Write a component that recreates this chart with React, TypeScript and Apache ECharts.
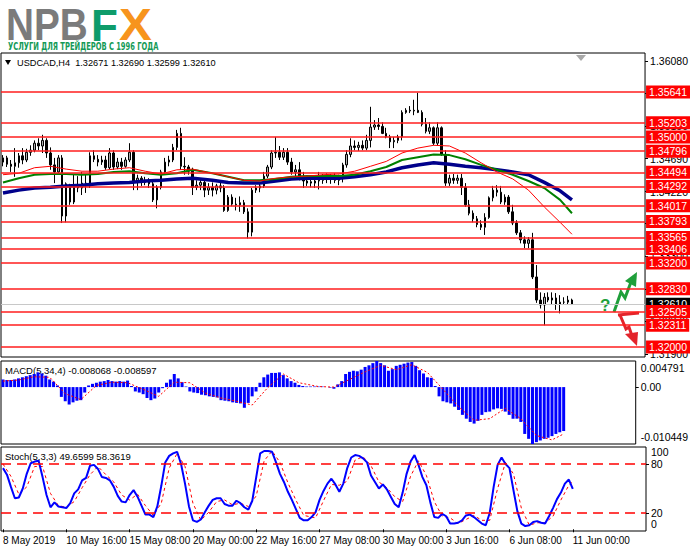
import React, { useEffect, useRef } from 'react';
import * as echarts from 'echarts';

// time axis: one label every 16 H4 bars
const timeLabels = ['8 May 2019', '10 May 16:00', '15 May 08:00', '20 May 00:00', '22 May 16:00',
  '27 May 08:00', '30 May 00:00', '3 Jun 16:00', '6 Jun 08:00', '11 Jun 00:00'];

// price axis ticks and the horizontal levels with red tags
const priceTicks = [1.3608, 1.3562, 1.3515, 1.3469, 1.3422, 1.3376, 1.333, 1.3283, 1.3237, 1.319];
const levelPrices = [1.35641, 1.35203, 1.35, 1.34796, 1.34494, 1.34292, 1.34017, 1.33793,
  1.33565, 1.33406, 1.332, 1.3283, 1.32505, 1.32311, 1.32];
const lastPrice = 1.3261;

const opens = [
  1.3464, 1.3470, 1.3461, 1.3458, 1.3463, 1.3473, 1.3467, 1.3478, 1.3481, 1.3491,
  1.3487, 1.3495, 1.3477, 1.3460, 1.3450, 1.3470, 1.3387, 1.3430, 1.3407, 1.3431,
  1.3427, 1.3434, 1.3430, 1.3473, 1.3468, 1.3464, 1.3467, 1.3456, 1.3477, 1.3457,
  1.3464, 1.3458, 1.3467, 1.3478, 1.3437, 1.3441, 1.3435, 1.3438, 1.3433, 1.3410,
  1.3428, 1.3450, 1.3464, 1.3467, 1.3485, 1.3505, 1.3458, 1.3457, 1.3451, 1.3428,
  1.3431, 1.3435, 1.3424, 1.3428, 1.3424, 1.3430, 1.3427, 1.3395, 1.3414, 1.3404,
  1.3403, 1.3406, 1.3393, 1.3364, 1.3424, 1.3427, 1.3430, 1.3444, 1.3457, 1.3477,
  1.3478, 1.3471, 1.3478, 1.3464, 1.3450, 1.3453, 1.3443, 1.3437, 1.3434,
  1.3434, 1.3437, 1.3438, 1.3443, 1.3440, 1.3441, 1.3438, 1.3441, 1.3460, 1.3475,
  1.3487, 1.3485, 1.3488, 1.3484, 1.3495, 1.3514, 1.3517, 1.3515, 1.3505, 1.3500,
  1.3493, 1.3495, 1.3500, 1.3535, 1.3538, 1.3537, 1.3538, 1.3535, 1.3518, 1.3508,
  1.3513, 1.3491, 1.3513, 1.3475, 1.3434, 1.3441, 1.3438, 1.3441, 1.3428, 1.3403,
  1.3391, 1.3383, 1.3375, 1.3371, 1.3385, 1.3413, 1.3424, 1.3421, 1.3407, 1.3414,
  1.3393, 1.3377, 1.3363, 1.3353, 1.3348, 1.3353, 1.3300, 1.3267, 1.3260, 1.3271,
  1.3267, 1.3270, 1.3261, 1.3264, 1.3264, 1.32671,
];
const highs = [
  1.3474, 1.3473, 1.3467, 1.3484, 1.3477, 1.3484, 1.3483, 1.3488, 1.3495, 1.3498,
  1.3503, 1.3498, 1.3485, 1.3470, 1.3474, 1.3474, 1.3435, 1.3433, 1.3446, 1.3444,
  1.3450, 1.3446, 1.3478, 1.3481, 1.3474, 1.3473, 1.3473, 1.3484, 1.3481, 1.3470,
  1.3470, 1.3471, 1.3491, 1.3481, 1.3446, 1.3444, 1.3443, 1.3441, 1.3438, 1.3431,
  1.3453, 1.3470, 1.3473, 1.3490, 1.3510, 1.3513, 1.3471, 1.3460, 1.3456, 1.3438,
  1.3441, 1.3441, 1.3434, 1.3435, 1.3433, 1.3435, 1.3431, 1.3417, 1.3418, 1.3413,
  1.3415, 1.3410, 1.3398, 1.3427, 1.3431, 1.3434, 1.3450, 1.3460, 1.3481, 1.3500,
  1.3487, 1.3484, 1.3484, 1.3470, 1.3460, 1.3464, 1.3450, 1.3444, 1.3441,
  1.3441, 1.3450, 1.3447, 1.3448, 1.3447, 1.3448, 1.3446, 1.3463, 1.3481, 1.3498,
  1.3495, 1.3493, 1.3495, 1.3503, 1.3543, 1.3524, 1.3527, 1.3521, 1.3513, 1.3503,
  1.3500, 1.3503, 1.3538, 1.3541, 1.3544, 1.3553, 1.3563, 1.3538, 1.3527, 1.3521,
  1.3515, 1.3521, 1.3515, 1.3481, 1.3446, 1.3447, 1.3446, 1.3447, 1.3434, 1.3410,
  1.3395, 1.3387, 1.3381, 1.3391, 1.3415, 1.3430, 1.3431, 1.3430, 1.3418, 1.3417,
  1.3403, 1.3381, 1.3367, 1.3358, 1.3357, 1.3363, 1.3317, 1.3278, 1.3277, 1.3278,
  1.3278, 1.3277, 1.3274, 1.3271, 1.3273, 1.3269,
];
const lows = [
  1.3458, 1.3457, 1.3450, 1.3443, 1.3456, 1.3461, 1.3464, 1.3473, 1.3478, 1.3481,
  1.3477, 1.3470, 1.3453, 1.3434, 1.3446, 1.3377, 1.3378, 1.3403, 1.3404, 1.3421,
  1.3417, 1.3420, 1.3427, 1.3464, 1.3458, 1.3460, 1.3453, 1.3454, 1.3453, 1.3454,
  1.3453, 1.3456, 1.3464, 1.3424, 1.3424, 1.3430, 1.3431, 1.3427, 1.3407, 1.3398,
  1.3425, 1.3447, 1.3458, 1.3464, 1.3481, 1.3453, 1.3446, 1.3446, 1.3417, 1.3424,
  1.3424, 1.3414, 1.3417, 1.3415, 1.3418, 1.3421, 1.3393, 1.3393, 1.3401, 1.3395,
  1.3393, 1.3390, 1.3355, 1.3358, 1.3420, 1.3421, 1.3427, 1.3441, 1.3454, 1.3470,
  1.3467, 1.3467, 1.3460, 1.3446, 1.3443, 1.3438, 1.3427, 1.3430, 1.3428,
  1.3427, 1.3425, 1.3433, 1.3434, 1.3433, 1.3434, 1.3431, 1.3435, 1.3456, 1.3471,
  1.3481, 1.3480, 1.3481, 1.3481, 1.3485, 1.3510, 1.3510, 1.3504, 1.3498, 1.3484,
  1.3484, 1.3491, 1.3495, 1.3533, 1.3534, 1.3531, 1.3534, 1.3515, 1.3505, 1.3504,
  1.3488, 1.3487, 1.3473, 1.3430, 1.3430, 1.3433, 1.3433, 1.3417, 1.3400, 1.3388,
  1.3378, 1.3371, 1.3367, 1.3360, 1.3383, 1.3408, 1.3415, 1.3404, 1.3403, 1.3390,
  1.3374, 1.3360, 1.3348, 1.3341, 1.3341, 1.3297, 1.3263, 1.3255, 1.3231, 1.3264,
  1.3261, 1.3253, 1.3248, 1.3260, 1.3261, 1.32599,
];
const closes = [
  1.3470, 1.3461, 1.3458, 1.3463, 1.3473, 1.3467, 1.3478, 1.3481, 1.3491, 1.3487,
  1.3495, 1.3477, 1.3460, 1.3450, 1.3470, 1.3387, 1.3433, 1.3407, 1.3431, 1.3427,
  1.3434, 1.3430, 1.3473, 1.3468, 1.3464, 1.3467, 1.3456, 1.3477, 1.3457, 1.3464,
  1.3458, 1.3467, 1.3478, 1.3437, 1.3441, 1.3435, 1.3438, 1.3433, 1.3410, 1.3428,
  1.3450, 1.3464, 1.3467, 1.3485, 1.3505, 1.3458, 1.3457, 1.3451, 1.3428, 1.3431,
  1.3435, 1.3424, 1.3428, 1.3424, 1.3430, 1.3427, 1.3395, 1.3414, 1.3404, 1.3403,
  1.3406, 1.3393, 1.3364, 1.3424, 1.3427, 1.3430, 1.3444, 1.3457, 1.3477, 1.3478,
  1.3471, 1.3478, 1.3464, 1.3450, 1.3453, 1.3443, 1.3437, 1.3434, 1.3436,
  1.3437, 1.3438, 1.3443, 1.3440, 1.3441, 1.3438, 1.3441, 1.3460, 1.3475, 1.3487,
  1.3485, 1.3488, 1.3484, 1.3495, 1.3514, 1.3517, 1.3515, 1.3505, 1.3500, 1.3493,
  1.3495, 1.3500, 1.3535, 1.3538, 1.3537, 1.3538, 1.3535, 1.3518, 1.3508, 1.3513,
  1.3491, 1.3513, 1.3475, 1.3434, 1.3441, 1.3438, 1.3441, 1.3428, 1.3403, 1.3391,
  1.3383, 1.3375, 1.3371, 1.3385, 1.3413, 1.3424, 1.3421, 1.3407, 1.3414, 1.3393,
  1.3377, 1.3363, 1.3353, 1.3348, 1.3353, 1.3300, 1.3267, 1.3260, 1.3271, 1.3267,
  1.3270, 1.3261, 1.3264, 1.3264, 1.3267, 1.3261,
];

// moving averages, read every ~4 bars
const maIndex = [0, 4, 8, 12, 16, 20, 24, 28, 32, 36, 40, 44, 48, 53, 57, 61, 65, 69, 73, 77,
  81, 85, 89, 93, 97, 101, 105, 109, 113, 117, 121, 125, 129, 133, 137, 141, 144];
const maSlow = [1.3420, 1.3424, 1.3427, 1.3428, 1.3430, 1.3431, 1.3433, 1.3434, 1.3435, 1.3437,
  1.3438, 1.3440, 1.3441, 1.3438, 1.3435, 1.3434, 1.3434, 1.3437, 1.3440, 1.3441,
  1.3441, 1.3441, 1.3443, 1.3446, 1.3450, 1.3456, 1.3460, 1.3463, 1.3461, 1.3458,
  1.3456, 1.3453, 1.3450, 1.3446, 1.3435, 1.3423, 1.3410];
const maMid = [1.3435, 1.3441, 1.3446, 1.3447, 1.3447, 1.3446, 1.3447, 1.3450, 1.3451, 1.3448,
  1.3446, 1.3448, 1.3453, 1.3448, 1.3443, 1.3438, 1.3438, 1.3440, 1.3443, 1.3444,
  1.3444, 1.3444, 1.3446, 1.3451, 1.3457, 1.3467, 1.3471, 1.3475, 1.3474, 1.3468,
  1.3460, 1.3453, 1.3446, 1.3437, 1.3427, 1.3410, 1.3391];
const maFast = [1.3446, 1.3448, 1.3456, 1.3458, 1.3454, 1.3451, 1.3451, 1.3454, 1.3456, 1.3451,
  1.3447, 1.3453, 1.3454, 1.3448, 1.3443, 1.3438, 1.3437, 1.3441, 1.3443, 1.3444,
  1.3446, 1.3447, 1.3451, 1.3458, 1.3465, 1.3477, 1.3484, 1.3488, 1.3487, 1.3477,
  1.3463, 1.3450, 1.3440, 1.3424, 1.3400, 1.3378, 1.3361];

const macdHist = [
  0.0014, 0.0013, 0.0013, 0.0014, 0.0016, 0.0018, 0.0020, 0.0022, 0.0024, 0.0027,
  0.0025, 0.0021, 0.0014, 0.0010, 0.0003, -0.0018, -0.0026, -0.0032, -0.0028, -0.0025,
  -0.0024, -0.0010, 0.0003, 0.0006, 0.0008, 0.0010, 0.0011, 0.0013, 0.0011, 0.0010,
  0.0011, 0.0010, 0.0012, 0.0002, -0.0008, -0.0010, -0.0013, -0.0020, -0.0024, -0.0021,
  -0.0010, -0.0002, 0.0008, 0.0014, 0.0024, 0.0016, 0.0009, 0.0001, -0.0008, -0.0010,
  -0.0011, -0.0014, -0.0015, -0.0017, -0.0018, -0.0019, -0.0024, -0.0025, -0.0026, -0.0028,
  -0.0029, -0.0030, -0.0038, -0.0029, -0.0017, -0.0008, 0.0008, 0.0018, 0.0023, 0.0026,
  0.0026, 0.0027, 0.0022, 0.0016, 0.0011, 0.0008, 0.0004, 0.0002, 0.0001,
  0.0001, 0.0001, 0.0001, 0.0001, 0.0000, -0.0001, -0.0003, 0.0005, 0.0011, 0.0024,
  0.0028, 0.0030, 0.0029, 0.0032, 0.0037, 0.0040, 0.0044, 0.004791, 0.0044, 0.0040,
  0.0030, 0.0033, 0.0039, 0.0041, 0.0043, 0.0045, 0.0046, 0.0039, 0.0031, 0.0025,
  0.0018, 0.0017, 0.0002, -0.0017, -0.0026, -0.0028, -0.0030, -0.0036, -0.0042, -0.0051,
  -0.0058, -0.0064, -0.0067, -0.0062, -0.0051, -0.0046, -0.0045, -0.0041, -0.0039, -0.0040,
  -0.0045, -0.0051, -0.0058, -0.0058, -0.0064, -0.0086, -0.0095, -0.010449, -0.0101, -0.0098,
  -0.0095, -0.0093, -0.0090, -0.0086, -0.0083, -0.008068,
];
const macdSignal = [[0, 0.0011], [4, 0.0013], [8, 0.0019], [12, 0.0018], [16, -0.0012], [20, -0.0023],
  [24, 0.0003], [28, 0.0009], [32, 0.0008], [36, -0.0004], [40, -0.0017], [44, 0.0009], [48, 0.0008],
  [52, -0.0011], [56, -0.0020], [60, -0.0026], [64, -0.0033], [68, -0.0001], [72, 0.0024], [76, 0.0008],
  [81, 0.0001], [85, 0.0000], [89, 0.0014], [93, 0.0028], [97, 0.0040], [101, 0.0032], [105, 0.0041],
  [109, 0.0027], [113, -0.0004], [117, -0.0036], [121, -0.0061], [125, -0.0058], [129, -0.0039],
  [133, -0.0058], [137, -0.0089], [141, -0.0097], [144, -0.008597]];

const stochK = [
  75, 67, 52, 38, 39, 50, 68, 81, 83, 84,
  64, 42, 27, 33, 28, 27, 26, 32, 44, 49,
  60, 63, 78, 79, 74, 64, 63, 60, 52, 41,
  34, 33, 42, 48, 40, 29, 18, 18, 15, 28,
  53, 82, 90, 93, 95, 80, 56, 28, 11, 9,
  12, 21, 29, 36, 38, 38, 31, 29, 29, 35,
  32, 27, 24, 35, 64, 93, 96, 96, 95, 82,
  68, 58, 46, 36, 25, 14, 11, 11, 15,
  21, 36, 47, 56, 62, 55, 46, 56, 75, 88,
  91, 90, 87, 82, 66, 58, 50, 55, 49, 40,
  31, 27, 45, 68, 83, 91, 79, 64, 54, 33,
  15, 14, 19, 16, 7, 7, 8, 11, 17, 18,
  15, 11, 7, 5, 20, 52, 79, 88, 80, 75,
  48, 22, 7, 4, 5, 9, 10, 8, 7, 16,
  26, 37, 45, 56, 61, 49.6599,
];
const stochD = [[0, 80], [2, 65], [4, 43], [6, 52], [8, 77], [10, 77], [12, 44], [14, 29], [16, 27],
  [18, 34], [20, 51], [22, 67], [24, 77], [26, 67], [28, 58], [30, 42], [32, 36], [34, 43], [36, 29],
  [38, 17], [40, 32], [42, 75], [44, 93], [46, 77], [48, 32], [50, 11], [52, 21], [54, 34], [56, 36],
  [58, 30], [60, 32], [62, 28], [64, 41], [66, 84], [68, 96], [70, 82], [72, 57], [74, 36], [76, 17],
  [79, 14], [81, 35], [83, 55], [85, 54], [87, 59], [89, 85], [91, 89], [93, 78], [95, 58], [97, 51],
  [99, 40], [101, 34], [103, 65], [105, 84], [107, 66], [109, 34], [111, 16], [113, 14], [115, 7],
  [117, 12], [119, 17], [121, 11], [123, 11], [125, 50], [127, 82], [129, 68], [131, 26], [133, 5],
  [135, 8], [137, 8], [139, 16], [141, 36], [143, 54], [144, 58.3619]];

const SLOTS = 163;
const FONT = 'Liberation Sans';

export default function App() {
  const chartRef = useRef<HTMLDivElement>(null);

  useEffect(() => {
    if (!chartRef.current) return;
    const chart = echarts.init(chartRef.current, null, { renderer: 'svg' });

    const cats = Array.from({ length: SLOTS }, (_, i) => String(i));
    const candles = opens.map((o, i) => [o, closes[i], lows[i], highs[i]]);
    const maPairs = (vals: number[]) => vals.map((v, k) => [maIndex[k], v]);
    const isTimeTick = (i: number) => i % 16 === 0 && i / 16 < timeLabels.length;

    const axisText = { fontSize: 10.5, color: '#000', fontFamily: FONT };
    const gridBase = { left: 1, width: 645, show: true, borderColor: '#000', borderWidth: 1 };
    const hiddenX = (gridIndex: number) => ({
      type: 'category', gridIndex, data: cats, boundaryGap: true, show: false,
    });

    const option = {
      animation: false,
      backgroundColor: '#fff',
      textStyle: { fontFamily: FONT },
      grid: [
        { ...gridBase, top: 53, height: 304 },
        { ...gridBase, top: 361, height: 83 },
        { ...gridBase, top: 447, height: 84 },
      ],
      xAxis: [
        hiddenX(0),
        hiddenX(1),
        {
          type: 'category', gridIndex: 2, data: cats, boundaryGap: true,
          axisLine: { show: false },
          axisTick: {
            show: true, interval: (i: number) => isTimeTick(i), alignWithLabel: true,
            length: 3, lineStyle: { color: '#000' },
          },
          axisLabel: {
            interval: (i: number) => isTimeTick(i),
            formatter: (v: string) => timeLabels[Number(v) / 16] || '',
            align: 'left', margin: 4, fontSize: 10, color: '#000', fontFamily: FONT,
          },
          splitLine: { show: false },
        },
      ],
      yAxis: [
        {
          type: 'value', gridIndex: 0, position: 'right', min: 1.31857, max: 1.36198,
          splitLine: { show: false }, axisLine: { show: false },
          axisTick: { show: true, customValues: priceTicks, length: 3, lineStyle: { color: '#000' } },
          axisLabel: { ...axisText, customValues: priceTicks, margin: 5, formatter: (v: number) => v.toFixed(5) },
        },
        {
          type: 'value', gridIndex: 1, position: 'right', min: -0.010449, max: 0.004791,
          splitLine: { show: false }, axisLine: { show: false },
          axisTick: { show: true, customValues: [0], length: 3, lineStyle: { color: '#000' } },
          axisLabel: {
            ...axisText, margin: 5, customValues: [0.004791, 0, -0.010449],
            formatter: (v: number) => (v > 0.001 ? '{t|0.004791}' : v < -0.001 ? '{b|-0.010449}' : '0.00'),
            rich: {
              t: { ...axisText, padding: [14, 0, 0, 0] },
              b: { ...axisText, padding: [0, 0, 14, 0] },
            },
          },
        },
        {
          type: 'value', gridIndex: 2, position: 'right', min: -2.1, max: 100.9,
          splitLine: { show: false }, axisLine: { show: false },
          axisTick: { show: true, customValues: [20, 80], length: 3, lineStyle: { color: '#000' } },
          axisLabel: {
            ...axisText, margin: 5, customValues: [0, 20, 80, 100],
            formatter: (v: number) => (v === 100 ? '{t|100}' : v === 0 ? '{b|0}' : String(v)),
            rich: {
              t: { ...axisText, padding: [8, 0, 0, 0] },
              b: { ...axisText, padding: [0, 0, 10, 0] },
            },
          },
        },
      ],
      series: [
        {
          type: 'candlestick', xAxisIndex: 0, yAxisIndex: 0, data: candles, barWidth: 2,
          itemStyle: { color: '#b0b0b0', color0: '#000', borderColor: '#000', borderColor0: '#000', borderWidth: 1 },
          markLine: {
            silent: true, symbol: ['none', 'none'], animation: false, precision: 5,
            emphasis: { disabled: true },
            lineStyle: { color: '#ff1e1e', width: 1.5, type: 'solid' },
            label: {
              show: true, position: 'end', distance: 1,
              formatter: (p: any) => Number(p.value).toFixed(5),
              backgroundColor: '#ff0000', color: '#fff', fontSize: 10.5, fontFamily: FONT,
              padding: [1, 3, 0, 3], lineHeight: 12,
            },
            data: [
              {
                yAxis: lastPrice,
                lineStyle: { color: '#c8c8c8', width: 1, type: 'solid' },
                label: { backgroundColor: '#000', color: '#fff' },
              },
              ...levelPrices.map((v) => ({ yAxis: v })),
            ],
          },
        },
        {
          type: 'line', xAxisIndex: 0, yAxisIndex: 0, data: maPairs(maSlow), showSymbol: false,
          lineStyle: { color: '#00008b', width: 3.5 }, silent: true,
        },
        {
          type: 'line', xAxisIndex: 0, yAxisIndex: 0, data: maPairs(maMid), showSymbol: false,
          lineStyle: { color: '#008000', width: 2 }, silent: true,
        },
        {
          type: 'line', xAxisIndex: 0, yAxisIndex: 0, data: maPairs(maFast), showSymbol: false,
          lineStyle: { color: '#ff0000', width: 1 }, silent: true,
        },
        {
          type: 'bar', xAxisIndex: 1, yAxisIndex: 1, data: macdHist, barWidth: 3,
          itemStyle: { color: '#0000ff' }, silent: true,
        },
        {
          type: 'line', xAxisIndex: 1, yAxisIndex: 1, data: macdSignal, showSymbol: false,
          lineStyle: { color: '#ff0000', width: 1, type: [2, 2] }, silent: true,
        },
        {
          type: 'line', xAxisIndex: 2, yAxisIndex: 2, data: stochD, showSymbol: false,
          lineStyle: { color: '#ff0000', width: 1, type: [3, 3] }, silent: true,
        },
        {
          type: 'line', xAxisIndex: 2, yAxisIndex: 2, data: stochK, showSymbol: false,
          lineStyle: { color: '#0000ff', width: 2 }, silent: true,
          markLine: {
            silent: true, symbol: ['none', 'none'], animation: false,
            lineStyle: { color: '#ff0000', width: 1.5, type: [10, 6] },
            label: { show: false },
            data: [{ yAxis: 80 }, { yAxis: 20 }],
          },
        },
      ],
      graphic: [
        { type: 'text', x: 6, y: 25, scaleX: 0.88, style: { text: 'NPB', fill: '#7b7b7b', font: `bold 44px "${FONT}"`, verticalAlign: 'middle' } },
        { type: 'text', x: 91, y: 25, style: { text: 'F', fill: '#0e9c6b', font: `bold 44px "${FONT}"`, verticalAlign: 'middle' } },
        { type: 'text', x: 119, y: 25, scaleX: 1.12, style: { text: 'X', fill: '#f7941d', font: `bold 44px "${FONT}"`, verticalAlign: 'middle' } },
        { type: 'text', x: 8, y: 47, scaleX: 0.75, style: { text: 'УСЛУГИ ДЛЯ ТРЕЙДЕРОВ С 1996 ГОДА', fill: '#139a56', font: 'bold 10px "DejaVu Sans Condensed"', verticalAlign: 'middle' } },
        { type: 'polygon', shape: { points: [[5, 60], [11, 60], [8, 65]] }, style: { fill: '#000' } },
        { type: 'text', x: 17, y: 63, style: { text: 'USDCAD,H4  1.32671 1.32690 1.32599 1.32610', fill: '#000', font: `9.2px "${FONT}"`, verticalAlign: 'middle' } },
        { type: 'polygon', shape: { points: [[576, 55], [586, 55], [581, 61]] }, style: { fill: '#a8a8a8' } },
        { type: 'text', x: 5, y: 370, style: { text: 'MACD(5,34,4) -0.008068 -0.008597', fill: '#000', font: `9.5px "${FONT}"`, verticalAlign: 'middle' } },
        { type: 'text', x: 5, y: 456, style: { text: 'Stoch(5,3,3) 49.6599 58.3619', fill: '#000', font: `9.5px "${FONT}"`, verticalAlign: 'middle' } },
        // forecast arrows
        { type: 'text', x: 600, y: 305, style: { text: '?', fill: '#1f9f3a', font: `bold 17px "${FONT}"`, verticalAlign: 'middle' } },
        { type: 'polyline', shape: { points: [[614, 312], [621, 292], [625, 298], [631, 282]] }, style: { stroke: '#1f9f3a', lineWidth: 3, fill: 'none' } },
        { type: 'polygon', shape: { points: [[625, 281], [637, 272], [636, 287]] }, style: { fill: '#1f9f3a' } },
        { type: 'polyline', shape: { points: [[618, 315], [639, 313]] }, style: { stroke: '#e3242b', lineWidth: 3, fill: 'none' } },
        { type: 'polyline', shape: { points: [[620, 315], [626, 329], [629, 327], [632, 336]] }, style: { stroke: '#e3242b', lineWidth: 3, fill: 'none' } },
        { type: 'polygon', shape: { points: [[625, 334], [637, 346], [638, 332]] }, style: { fill: '#e3242b' } },
      ],
    };

    chart.setOption(option as any);
    return () => chart.dispose();
  }, []);

  return (
    <div style={{ position: 'fixed', left: 0, top: 0, width: 691, height: 549, background: '#fff' }}>
      <div ref={chartRef} style={{ width: 691, height: 549 }} />
    </div>
  );
}
